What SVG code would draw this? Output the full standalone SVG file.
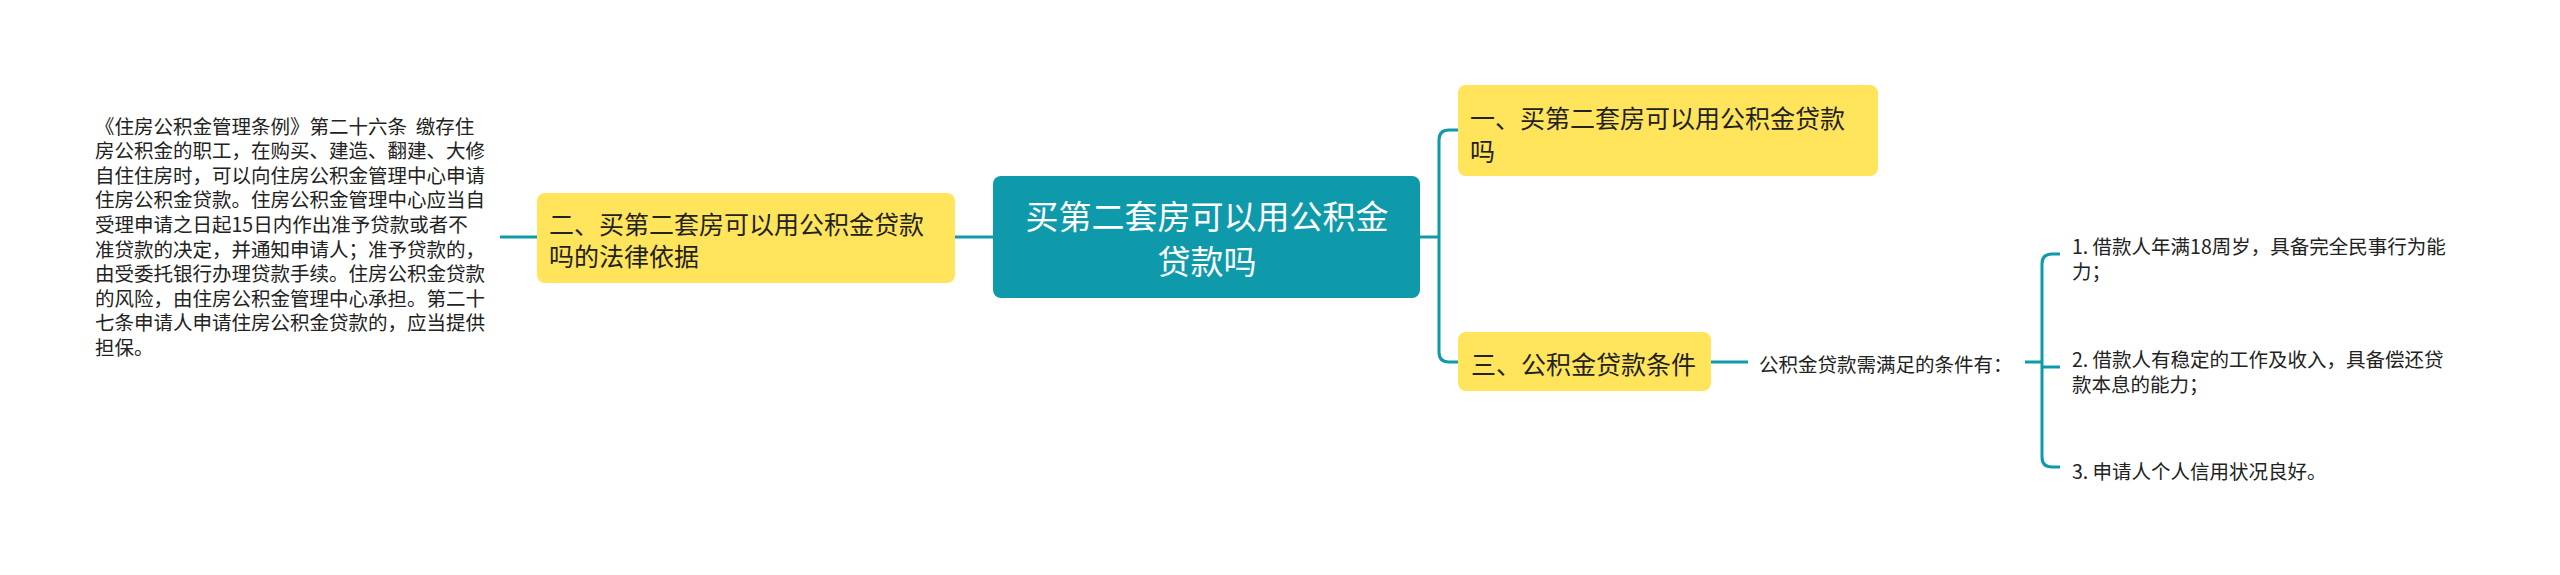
<svg xmlns="http://www.w3.org/2000/svg" width="2560" height="575" viewBox="0 0 2560 575">
<style>
text{font-family:"Noto Sans CJK SC","Noto Sans",sans-serif;dominant-baseline:central}
.y{fill:#ffe45c}
.c{fill:#0f9aab}
.yt{font-size:25px;fill:#222}
.ct{font-size:33px;fill:#fff;text-anchor:middle}
.st{font-size:19.5px;fill:#222}
.ln{fill:none;stroke:#0f9aab;stroke-width:3}
</style>
<rect width="2560" height="575" fill="#fff"/>
<g id="connectors">
<path class="ln" d="M955,237 H993"/>
<path class="ln" d="M500,237 H537"/>
<path class="ln" d="M1420,237 H1439"/>
<path class="ln" d="M1458,130 H1449 Q1439,130 1439,140 V352 Q1439,362 1449,362 H1458"/>
<path class="ln" d="M1711,362 H1748"/>
<path class="ln" d="M2025,362 H2042"/>
<path class="ln" d="M2060,254 H2052 Q2042,254 2042,264 V457 Q2042,467 2052,467 H2060"/>
<path class="ln" d="M2042,367 H2060"/>
</g>
<g id="center">
<rect class="c" x="993" y="176" width="427" height="122" rx="8"/>
<text class="ct" x="1207" y="215">买第二套房可以用公积金</text>
<text class="ct" x="1207" y="260">贷款吗</text>
</g>
<g id="node-2">
<rect class="y" x="537" y="193" width="418" height="90" rx="8"/>
<text class="yt" x="549" y="223">二、买第二套房可以用公积金贷款</text>
<text class="yt" x="549" y="255">吗的法律依据</text>
</g>
<g id="node-2-text">
<text class="st" x="95" y="125" xml:space="preserve">《住房公积金管理条例》第二十六条  缴存住</text>
<text class="st" x="95" y="149.6">房公积金的职工，在购买、建造、翻建、大修</text>
<text class="st" x="95" y="174.2">自住住房时，可以向住房公积金管理中心申请</text>
<text class="st" x="95" y="198.8">住房公积金贷款。住房公积金管理中心应当自</text>
<text class="st" x="95" y="223.4">受理申请之日起15日内作出准予贷款或者不</text>
<text class="st" x="95" y="248">准贷款的决定，并通知申请人；准予贷款的，</text>
<text class="st" x="95" y="272.6">由受委托银行办理贷款手续。住房公积金贷款</text>
<text class="st" x="95" y="297.2">的风险，由住房公积金管理中心承担。第二十</text>
<text class="st" x="95" y="321.8">七条申请人申请住房公积金贷款的，应当提供</text>
<text class="st" x="95" y="346.4">担保。</text>
</g>
<g id="node-1">
<rect class="y" x="1458" y="85" width="420" height="91" rx="8"/>
<text class="yt" x="1470" y="117">一、买第二套房可以用公积金贷款</text>
<text class="yt" x="1470" y="150">吗</text>
</g>
<g id="node-3">
<rect class="y" x="1458" y="332" width="253" height="59" rx="8"/>
<text class="yt" x="1471" y="363">三、公积金贷款条件</text>
</g>
<g id="node-3-sub">
<text class="st" x="1759" y="363">公积金贷款需满足的条件有：</text>
</g>
<g id="item-1">
<text class="st" x="2072" y="245">1. 借款人年满18周岁，具备完全民事行为能</text>
<text class="st" x="2072" y="270">力；</text>
</g>
<g id="item-2">
<text class="st" x="2072" y="358">2. 借款人有稳定的工作及收入，具备偿还贷</text>
<text class="st" x="2072" y="383">款本息的能力；</text>
</g>
<g id="item-3">
<text class="st" x="2072" y="470">3. 申请人个人信用状况良好。</text>
</g>
</svg>
